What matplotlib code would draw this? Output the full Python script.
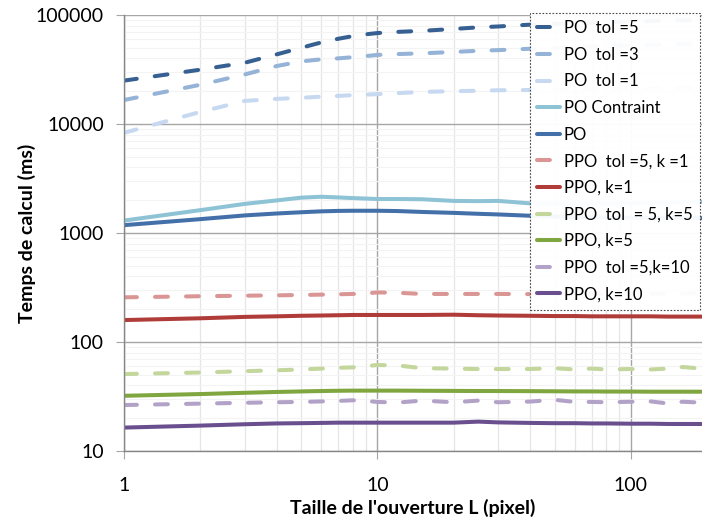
import matplotlib
matplotlib.use("Agg")
import matplotlib.pyplot as plt
from matplotlib.ticker import LogLocator, NullFormatter, FixedLocator

plt.rcParams['font.family'] = ['Lato', 'DejaVu Sans']

# aperture sizes L (pixel)
L = [1, 2, 3, 4, 5, 6, 7, 8, 9, 10, 12, 15, 20, 25, 30, 40, 50, 60, 70, 80, 100, 120, 140, 160, 190]

# computation times (ms)
po_tol5 = [25000, 31500, 36500, 43500, 50000, 56000, 60500, 64000, 66500, 68300, 70000, 71500, 74500,
           77000, 78500, 81500, 83000, 84000, 85000, 85800, 87000, 88000, 88800, 89400, 90000]
po_tol3 = [16600, 22900, 28500, 34000, 37500, 39200, 40000, 41000, 42000, 43000, 43800, 44500, 45800,
           47000, 47600, 49000, 49800, 50500, 51200, 51800, 52600, 53300, 53800, 54300, 55000]
po_tol1 = [8300, 12900, 16300, 17000, 17400, 17800, 18100, 18400, 18600, 18800, 19200, 19700, 20000,
           20200, 20400, 20500, 20700, 20800, 20900, 21000, 21100, 21200, 21300, 21350, 21400]
po_contraint = [1300, 1620, 1850, 1990, 2110, 2150, 2120, 2090, 2070, 2050, 2050, 2040, 1970,
                1960, 1970, 1870, 1860, 1850, 1870, 1860, 1880, 1890, 1900, 1920, 1930]
po = [1180, 1340, 1450, 1510, 1550, 1580, 1595, 1600, 1600, 1600, 1590, 1560, 1530,
      1500, 1480, 1440, 1420, 1400, 1395, 1390, 1380, 1380, 1375, 1370, 1370]
ppo_tol5_k1 = [257, 263, 266, 268, 270, 272, 274, 276, 279, 285, 283, 276, 276,
               276, 276, 275, 276, 276, 275, 276, 276, 277, 278, 279, 280]
ppo_k1 = [159, 165, 170, 172, 174, 175, 176, 177, 177, 177, 177, 177, 178,
          176, 175, 174, 173, 173, 172, 172, 172, 172, 171, 171, 171]
ppo_tol5_k5 = [50.8, 52.5, 54, 55, 56, 57, 58, 58.5, 60, 61.5, 61, 57.5, 57,
               56.5, 56.5, 56.5, 57.5, 56, 57, 56, 56.5, 56, 57, 59, 57]
ppo_k5 = [32.1, 33.3, 34.2, 34.8, 35.2, 35.5, 35.7, 35.8, 35.8, 35.8, 35.8, 35.7, 35.6,
          35.5, 35.5, 35.4, 35.3, 35.2, 35.2, 35.1, 35.1, 35.0, 35.0, 35.0, 35.0]
ppo_tol5_k10 = [26.4, 27.2, 27.7, 28.0, 28.2, 28.5, 28.8, 29.2, 28.8, 28.2, 27.8, 29.0, 28.0,
                29.0, 28.0, 28.4, 29.5, 28.2, 28.2, 28.0, 28.3, 28.5, 27.3, 28.3, 27.8]
ppo_k10 = [16.4, 17.1, 17.6, 17.9, 18.0, 18.1, 18.2, 18.2, 18.2, 18.2, 18.2, 18.2, 18.2,
           18.6, 18.3, 18.1, 18.0, 18.0, 17.9, 17.9, 17.8, 17.8, 17.7, 17.7, 17.7]

series = [
    ("PO  tol =5", po_tol5, "#376092", True),
    ("PO  tol =3", po_tol3, "#95B3D7", True),
    ("PO  tol =1", po_tol1, "#C6D9F1", True),
    ("PO Contraint", po_contraint, "#8EC3D6", False),
    ("PO", po, "#4470AA", False),
    ("PPO  tol =5, k =1", ppo_tol5_k1, "#DA9694", True),
    ("PPO, k=1", ppo_k1, "#B03C3A", False),
    ("PPO  tol  = 5, k=5", ppo_tol5_k5, "#C3D69B", True),
    ("PPO, k=5", ppo_k5, "#7FA63F", False),
    ("PPO  tol =5,k=10", ppo_tol5_k10, "#B3A2C7", True),
    ("PPO, k=10", ppo_k10, "#6A4F8F", False),
]

fig = plt.figure(figsize=(7.02, 5.21), dpi=100)
ax = fig.add_axes([124 / 702, 1 - 451 / 521, 578 / 702, 436 / 521])

lw = 2.9
for label, vals, color, dashed in series:
    line, = ax.plot(L, vals, color=color, lw=lw, label=label,
                    solid_capstyle='round', dash_capstyle='round')
    if dashed:
        line.set_dashes((3.2, 4.5))

ax.set_xscale('log')
ax.set_yscale('log')
ax.set_xlim(1, 191)
ax.set_ylim(10, 100000)

ax.yaxis.set_major_locator(FixedLocator([10, 100, 1000, 10000, 100000]))
ax.set_yticklabels(["10", "100", "1000", "10000", "100000"])
ax.xaxis.set_major_locator(FixedLocator([1, 10, 100]))
ax.set_xticklabels(["1", "10", "100"])
ax.xaxis.set_minor_locator(LogLocator(base=10, subs=range(2, 10)))
ax.yaxis.set_minor_locator(LogLocator(base=10, subs=range(2, 10)))
ax.xaxis.set_minor_formatter(NullFormatter())
ax.yaxis.set_minor_formatter(NullFormatter())

ax.grid(True, which='major', color='#A6A6A6', lw=1.0)
ax.grid(True, which='minor', axis='x', color='#E6E6E6', lw=0.9)
ax.grid(True, which='minor', axis='y', color='#F3F3F3', lw=0.8)
ax.set_axisbelow(True)

for s in ['top', 'right']:
    ax.spines[s].set_visible(False)
for s in ['left', 'bottom']:
    ax.spines[s].set_color('#868686')
    ax.spines[s].set_linewidth(1.0)

ax.tick_params(which='major', length=5.5, color='#A6A6A6', labelsize=14, labelcolor='black')
ax.tick_params(axis='y', pad=9)
ax.tick_params(axis='x', pad=13)
ax.tick_params(which='minor', length=0)

ax.set_xlabel("Taille de l'ouverture L (pixel)", fontsize=14, fontweight='bold', labelpad=4)
ax.set_ylabel("Temps de calcul (ms)", fontsize=14, fontweight='bold', labelpad=0)

leg = ax.legend(loc='upper left', bbox_to_anchor=(0.702, 1.005), borderaxespad=0,
                fontsize=12, handlelength=1.38, handletextpad=0.2, labelspacing=0.635,
                borderpad=0.45, fancybox=False, framealpha=0.96)
frame = leg.get_frame()
frame.set_edgecolor('#404040')
frame.set_linewidth(0.8)
frame.set_linestyle((0, (1.5, 1.5)))

fig.savefig("out.png", dpi=100)
